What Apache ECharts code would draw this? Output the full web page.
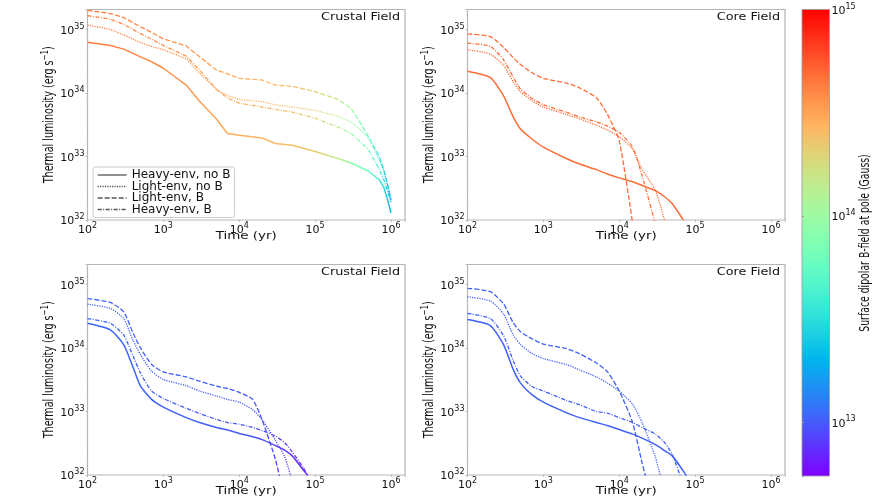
<!DOCTYPE html>
<html>
<head>
<meta charset="utf-8">
<style>html,body{margin:0;padding:0;background:#fff}#main{width:872px;height:501px}</style>
<script src="https://cdn.jsdelivr.net/npm/echarts@6/dist/echarts.min.js"></script>
</head>
<body>
<div id="main"></div>
<script>
// time grids (yr)
var timesCrust = [1e2,2e2,3e2,5e2,7e2,1e3,2e3,3e3,5e3,7e3,1e4,2e4,3e4,5e4,1e5,2e5,3e5,5e5,7e5,8e5,9e5,1e6];
var timesFall = [1e2,2e2,3e2,4e2,5e2,7e2,1e3,2e3,3e3,5e3,7e3,1e4,1.5e4,2e4,3e4,4e4,5e4,7e4,8e4];

// top left, crustal field, strong
var a_heavy = [6.3e34,5.6e34,4.9e34,3.7e34,3.1e34,2.45e34,1.33e34,7.4e33,3.9e33,2.3e33,2.15e33,1.95e33,1.6e33,1.5e33,1.2e33,9.3e32,7.9e32,5.9e32,4.3e32,3.3e32,2.1e32,1.3e32];
var a_light = [1.18e35,1e35,8.2e34,6.2e34,5.4e34,4.8e34,3.45e34,2.05e34,1.13e34,9.1e33,7.9e33,7.3e33,6.5e33,6e33,5.3e33,4.3e33,3.5e33,2e33,9.1e32,6e32,3.5e32,2e32];
var a_lightB = [2e35,1.78e35,1.54e35,1.1e35,9e34,7.1e34,5.5e34,3.7e34,2.3e34,2e34,1.7e34,1.6e34,1.33e34,1.27e34,1.05e34,7.9e33,5.7e33,2.1e33,1e33,6.3e32,3.7e32,2.1e32];
var a_heavyB = [1.65e35,1.45e35,1.2e35,8.6e34,7e34,5.6e34,3.8e34,2.3e34,1.15e34,8.3e33,6.9e33,6e33,5.5e33,5e33,4e33,2.9e33,2.3e33,1.3e33,6.3e32,4.4e32,2.9e32,1.9e32];

// top right, core field, strong
var b_heavy = [2.2e34,1.75e34,8.9e33,4.2e33,2.7e33,1.9e33,1.4e33,9.3e32,7.6e32,6.2e32,5.3e32,4.6e32,4e32,3.5e32,2.9e32,2.3e32,1.8e32,1e32,null];
var b_light = [4.8e34,4.1e34,2.7e34,1.5e34,1.05e34,7.6e33,6e33,4.6e33,3.9e33,3.1e33,2.6e33,2.05e33,1.3e33,6.3e32,2.9e32,9.5e31,null,null,null];
var b_lightB = [8.5e34,7.7e34,5.2e34,3.6e34,2.8e34,2.1e34,1.7e34,1.43e34,1.2e34,8.4e33,4.6e33,1.76e33,9e31,null,null,null,null,null,null];
var b_heavyB = [6.1e34,5.4e34,3.3e34,1.78e34,1.15e34,8.3e33,6.5e33,5e33,4.2e33,3.5e33,3e33,2.4e33,1.4e33,5e32,8.5e31,null,null,null,null];

// bottom left, crustal field, weak
var c_heavy = [2.45e34,1.93e34,1.13e34,4.9e33,2.5e33,1.55e33,1.17e33,8e32,6.7e32,5.6e32,5.1e32,4.5e32,4e32,3.6e32,2.9e32,2.45e32,2e32,1.2e32,9.8e31];
var c_light = [4.9e34,4.2e34,2.9e34,1.3e34,7.8e33,4.3e33,3.2e33,2.55e33,2.1e33,1.75e33,1.55e33,1.4e33,1.07e33,7.4e32,3.5e32,1.9e32,8e31,null,null];
var c_lightB = [6e34,5.2e34,3.7e34,1.7e34,1e34,5.5e33,4.2e33,3.5e33,3e33,2.5e33,2.3e33,2e33,1.55e33,7.4e32,1.75e32,4e31,null,null,null];
var c_heavyB = [2.9e34,2.45e34,1.6e34,7.4e33,4e33,2.1e33,1.6e33,1.12e33,9.3e32,7.5e32,6.7e32,6.3e32,5.6e32,5e32,4.1e32,3.2e32,2.3e32,1.3e32,9.5e31];

// bottom right, core field, weak
var d_heavy = [2.8e34,2.25e34,1.12e34,4.6e33,2.8e33,1.86e33,1.4e33,9.6e32,8e32,6.7e32,6e32,5.2e32,4.4e32,3.8e32,3e32,2.4e32,2e32,1.15e32,8.9e31];
var d_light = [6.4e34,5.5e34,3.4e34,1.6e34,1.13e34,8.3e33,6.8e33,5.5e33,4.5e33,3.5e33,2.8e33,2.1e33,1.3e33,6.7e32,1.9e32,5e31,null,null,null];
var d_lightB = [8.7e34,7.7e34,4.9e34,2.5e34,1.8e34,1.4e34,1.15e34,9.8e33,8.1e33,5.8e33,4.2e33,2.1e33,6.7e32,1.55e32,2.5e31,null,null,null,null];
var d_heavyB = [3.5e34,2.9e34,1.55e34,6.3e33,3.6e33,2.5e33,2.1e33,1.5e33,1.28e33,1e33,9.4e32,8e32,6.7e32,5.6e32,4.4e32,3.2e32,2.1e32,7e31,null];

// log10 of the surface field against time
var fieldTimes = [1e2,1e3,1e4,5e4,1e5,2e5,3e5,5e5,7e5,1e6];
var fieldCrustStrong = [14.64,14.58,14.46,14.39,14.32,14.14,13.96,13.76,13.55,13.24];
var fieldTimesWeak = [1e2,1e4,2e4,3e4,5e4,8e4];
var fieldCrustWeak = [13.04,13.0,12.97,12.93,12.88,12.85];
var fieldCoreStrong = 14.68;
var fieldCoreWeak = 13.02;

var legendNames = ['Heavy-env, no B','Light-env, no B','Light-env, B','Heavy-env, B'];
var lineTypes = ['solid',[1.2,1.2],[5,2],[4,1.5,1,1.5]];
var panelTitles = ['Crustal Field','Core Field','Crustal Field','Core Field'];
var xLabel = 'Time (yr)';
var barLabel = 'Surface dipolar B-field at pole (Gauss)';

var barMin = 12.74, barMax = 15;
var mainFont = 'DejaVu Sans';

// matplotlib rainbow colormap
function rainbow(v){
	var r = Math.min(1,Math.abs(2*v-0.5));
	var g = Math.sin(Math.PI*v);
	var b = Math.cos(Math.PI*v/2);
	return 'rgb('+Math.round(r*255)+','+Math.round(g*255)+','+Math.round(b*255)+')';
}
function fieldColor(logB){
	return rainbow((logB-barMin)/(barMax-barMin));
}

// colour along a line, offsets run over that line's own time range
function lineColor(times,values,fTimes,fields){
	if(typeof fields==='number') return fieldColor(fields);
	var last = 0;
	for(var i=0;i<values.length;i++){ if(values[i]!==null) last = times[i]; }
	var span = Math.log10(last/times[0]);
	var stops = [];
	for(var j=0;j<fTimes.length;j++){
		var off = Math.log10(fTimes[j]/times[0])/span;
		if(off<=1) stops.push({offset:off,color:fieldColor(fields[j])});
	}
	return {type:'linear',x:0,y:0,x2:1,y2:0,colorStops:stops};
}

function pairs(times,values){
	var out = [];
	for(var i=0;i<values.length;i++){
		if(values[i]!==null) out.push([times[i],values[i]]);
	}
	return out;
}

function powerLabel(value){
	var e = Math.log10(value);
	if(Math.abs(e-Math.round(e))>0.001) return '';
	return '{b|10}{s|'+Math.round(e)+'}';
}
var powerRich = {
	b:{fontFamily:mainFont,fontSize:11,color:'#111',verticalAlign:'bottom',lineHeight:14},
	s:{fontFamily:mainFont,fontSize:8,color:'#111',verticalAlign:'top',lineHeight:14}
};

// the reference is stretched sideways: flat text comes out wide, upright text narrow
function flatText(x,y,text,align,size,stretch){
	return {type:'text',x:x,y:y,scaleX:stretch,silent:true,
		style:{text:text,fontFamily:mainFont,fontSize:size,fill:'#111',align:align,verticalAlign:'middle'}};
}
function uprightText(x,y,text,size,squeeze){
	return {type:'text',x:x,y:y,rotation:Math.PI/2,scaleX:squeeze,silent:true,
		style:{text:text,fontFamily:mainFont,fontSize:size,fill:'#111',align:'center',verticalAlign:'middle',
			rich:{
				n:{fontFamily:mainFont,fontSize:size,fill:'#111',verticalAlign:'bottom',lineHeight:16},
				u:{fontFamily:mainFont,fontSize:size-3.5,fill:'#111',verticalAlign:'top',lineHeight:16}
			}}};
}

var grids = [
	{left:87.5,top:9.5,width:317.5,height:210.5},
	{left:467.5,top:9.5,width:317.5,height:210.5},
	{left:87.5,top:264.5,width:317.5,height:210.5},
	{left:467.5,top:264.5,width:317.5,height:210.5}
];
var panels = [
	{times:timesCrust,lines:[a_heavy,a_light,a_lightB,a_heavyB],fTimes:fieldTimes,fields:fieldCrustStrong,smooth:false},
	{times:timesFall,lines:[b_heavy,b_light,b_lightB,b_heavyB],fields:fieldCoreStrong,smooth:0.2},
	{times:timesFall,lines:[c_heavy,c_light,c_lightB,c_heavyB],fTimes:fieldTimesWeak,fields:fieldCrustWeak,smooth:0.2},
	{times:timesFall,lines:[d_heavy,d_light,d_lightB,d_heavyB],fields:fieldCoreWeak,smooth:0.2}
];

var gridOpt = [], xAxes = [], yAxes = [], series = [], texts = [];
panels.forEach(function(p,k){
	var g = grids[k];
	gridOpt.push({left:g.left,top:g.top,width:g.width,height:g.height,show:true,borderColor:'#b5b5b5',borderWidth:1.2});
	xAxes.push({
		type:'log',logBase:10,gridIndex:k,min:1e2,max:1.53e6,
		axisLine:{show:false},
		axisTick:{show:true,length:2,lineStyle:{color:'#bbb'}},
		minorTick:{show:true,splitNumber:9,length:1,lineStyle:{color:'#ddd'}},
		splitLine:{show:false},minorSplitLine:{show:false},
		axisLabel:{formatter:powerLabel,rich:powerRich,margin:2,showMinLabel:true,showMaxLabel:false,hideOverlap:false}
	});
	yAxes.push({
		type:'log',logBase:10,gridIndex:k,min:1e32,max:2.06e35,
		axisLine:{show:false},
		axisTick:{show:true,length:2,lineStyle:{color:'#bbb'}},
		minorTick:{show:true,splitNumber:9,length:1,lineStyle:{color:'#ddd'}},
		splitLine:{show:false},minorSplitLine:{show:false},
		axisLabel:{formatter:powerLabel,rich:powerRich,margin:3,showMaxLabel:false,hideOverlap:false}
	});
	p.lines.forEach(function(vals,n){
		series.push({
			name:legendNames[n],type:'line',xAxisIndex:k,yAxisIndex:k,
			data:pairs(p.times,vals),
			symbol:'none',clip:true,silent:true,animation:false,smooth:p.smooth,
			lineStyle:{width:n===0?1.5:1.3,type:lineTypes[n],color:lineColor(p.times,vals,p.fTimes,p.fields),cap:'butt'},
			itemStyle:{color:'#666'}
		});
	});
	texts.push(flatText(g.left+g.width-5,g.top+8,panelTitles[k],'right',10,1.28));
	texts.push(flatText(g.left+g.width/2,g.top+g.height+16,xLabel,'center',10.5,1.28));
	texts.push(uprightText(g.left-39,g.top+g.height/2,'{n|Thermal luminosity (erg s}{u|−1}{n|)}',13.5,0.71));
});

// colorbar: a grid of its own, filled with the colormap, with a log axis on the right
var barStops = [];
for(var i=0;i<=20;i++){ barStops.push({offset:i/20,color:rainbow(1-i/20)}); }
gridOpt.push({left:802,top:9.5,width:27.5,height:466.5,show:true,borderColor:'#999',borderWidth:0.8,
	backgroundColor:{type:'linear',x:0,y:0,x2:0,y2:1,colorStops:barStops}});
xAxes.push({type:'value',gridIndex:4,show:false,min:0,max:1});
yAxes.push({
	type:'log',logBase:10,gridIndex:4,position:'right',min:Math.pow(10,barMin),max:1e15,
	axisLine:{show:false},
	axisTick:{show:true,length:2,lineStyle:{color:'#999'}},
	minorTick:{show:false},
	splitLine:{show:false},
	axisLabel:{formatter:powerLabel,rich:powerRich,margin:2,hideOverlap:false}
});
series.push({type:'line',xAxisIndex:4,yAxisIndex:4,data:[],silent:true,animation:false});
texts.push(uprightText(865,243,barLabel,13.5,0.69));

var chart = echarts.init(document.getElementById('main'));
chart.setOption({
	backgroundColor:'#fff',
	animation:false,
	legend:{
		show:true,orient:'vertical',left:93,top:167,
		itemWidth:29,itemHeight:9,itemGap:-0.5,padding:[2,4,2,4],
		backgroundColor:'#fff',borderColor:'#ccc',borderWidth:1,borderRadius:2,
		selectedMode:false,z:10,
		textStyle:{fontFamily:mainFont,fontSize:12,color:'#111',lineHeight:9},
		itemStyle:{opacity:0},
		data:legendNames.map(function(nm,n){
			return {name:nm,itemStyle:{opacity:0},lineStyle:{color:'#555',width:1.3,type:lineTypes[n]}};
		})
	},
	graphic:{elements:texts},
	grid:gridOpt,xAxis:xAxes,yAxis:yAxes,series:series
});
</script>
</body>
</html>
